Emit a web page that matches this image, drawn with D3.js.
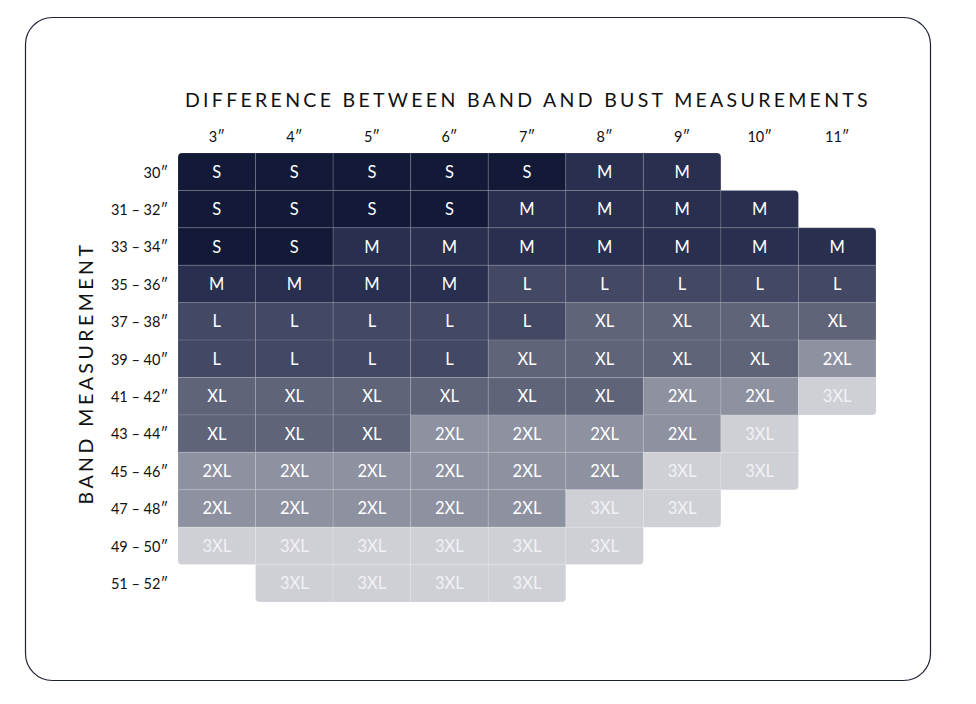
<!DOCTYPE html>
<html>
<head>
<meta charset="utf-8">
<script src="https://cdn.jsdelivr.net/npm/d3@7"></script>
<style>
	body { margin: 0; background: #fff; }
	svg text { font-family: Lato, "Open Sans", sans-serif; }
</style>
</head>
<body>
<div id="chart"></div>
<script>
// difference between band and bust (columns)
const diffs = ["3″", "4″", "5″", "6″", "7″", "8″", "9″", "10″", "11″"];
// band measurement (rows)
const bands = ["30″", "31 – 32″", "33 – 34″", "35 – 36″", "37 – 38″", "39 – 40″",
	"41 – 42″", "43 – 44″", "45 – 46″", "47 – 48″", "49 – 50″", "51 – 52″"];
// sizes per row, one entry per column ("" = no cell)
const sizeRows = [
	["S", "S", "S", "S", "S", "M", "M", "", ""],
	["S", "S", "S", "S", "M", "M", "M", "M", ""],
	["S", "S", "M", "M", "M", "M", "M", "M", "M"],
	["M", "M", "M", "M", "L", "L", "L", "L", "L"],
	["L", "L", "L", "L", "L", "XL", "XL", "XL", "XL"],
	["L", "L", "L", "L", "XL", "XL", "XL", "XL", "2XL"],
	["XL", "XL", "XL", "XL", "XL", "XL", "2XL", "2XL", "3XL"],
	["XL", "XL", "XL", "2XL", "2XL", "2XL", "2XL", "3XL", ""],
	["2XL", "2XL", "2XL", "2XL", "2XL", "2XL", "3XL", "3XL", ""],
	["2XL", "2XL", "2XL", "2XL", "2XL", "3XL", "3XL", "", ""],
	["3XL", "3XL", "3XL", "3XL", "3XL", "3XL", "", "", ""],
	["", "3XL", "3XL", "3XL", "3XL", "", "", "", ""]
];
const sizes = ["S", "M", "L", "XL", "2XL", "3XL"];
const sizeColors = ["#121a38", "#292f4e", "#434964", "#5f6479", "#8e91a0", "#cfd0d6"];

const W = 976, H = 704;
const svg = d3.select("#chart").append("svg")
	.attr("width", W)
	.attr("height", H);

// frame
svg.append("rect")
	.attr("x", 25.5)
	.attr("y", 17.5)
	.attr("width", 905)
	.attr("height", 663)
	.attr("rx", 27)
	.attr("fill", "none")
	.attr("stroke", "#1d2236")
	.attr("stroke-width", 1.2);

const x = d3.scaleBand().domain(diffs).range([178, 876]);
const y = d3.scaleBand().domain(bands).range([153, 602]);
const color = d3.scaleOrdinal().domain(sizes).range(sizeColors);

const cells = [];
sizeRows.forEach((row, r) => row.forEach((s, c) => {
	if (s) cells.push({ r, c, size: s });
}));
const has = (r, c) => r >= 0 && r < bands.length && c >= 0 && c < diffs.length && !!sizeRows[r][c];

// rect with only the exposed outer corners rounded
function cellPath(d) {
	const x0 = x(diffs[d.c]), y0 = y(bands[d.r]);
	const x1 = x0 + x.bandwidth(), y1 = y0 + y.bandwidth();
	const R = 4;
	const tl = !has(d.r - 1, d.c) && !has(d.r, d.c - 1) ? R : 0;
	const tr = !has(d.r - 1, d.c) && !has(d.r, d.c + 1) ? R : 0;
	const br = !has(d.r + 1, d.c) && !has(d.r, d.c + 1) ? R : 0;
	const bl = !has(d.r + 1, d.c) && !has(d.r, d.c - 1) ? R : 0;
	return `M${x0 + tl},${y0}H${x1 - tr}Q${x1},${y0} ${x1},${y0 + tr}` +
		`V${y1 - br}Q${x1},${y1} ${x1 - br},${y1}` +
		`H${x0 + bl}Q${x0},${y1} ${x0},${y1 - bl}` +
		`V${y0 + tl}Q${x0},${y0} ${x0 + tl},${y0}Z`;
}

svg.append("g")
	.selectAll("path")
	.data(cells)
	.enter()
	.append("path")
	.attr("d", cellPath)
	.attr("fill", d => color(d.size))
	.attr("stroke", "rgba(255,255,255,0.12)")
	.attr("stroke-width", 1);

svg.append("g")
	.selectAll("text")
	.data(cells)
	.enter()
	.append("text")
	.attr("x", d => x(diffs[d.c]) + x.bandwidth() / 2)
	.attr("y", d => y(bands[d.r]) + y.bandwidth() / 2 + 6)
	.attr("text-anchor", "middle")
	.style("fill", d => d.size === "3XL" ? "#f2f2f5" : "#ffffff")
	.style("font-size", "16.5px")
	.text(d => d.size);

// column labels
const xAxis = svg.append("g")
	.attr("transform", "translate(0,142)")
	.call(d3.axisTop(x).tickSize(0).tickPadding(0));
xAxis.select(".domain").remove();
xAxis.selectAll("text")
	.style("font-family", "Lato, sans-serif")
	.style("font-size", "14.5px")
	.style("fill", "#111");

// row labels
const yAxis = svg.append("g")
	.attr("transform", "translate(168,0)")
	.call(d3.axisLeft(y).tickSize(0).tickPadding(0));
yAxis.select(".domain").remove();
yAxis.selectAll("text")
	.attr("dy", "0.4em")
	.style("font-family", "Lato, sans-serif")
	.style("font-size", "14.5px")
	.style("fill", "#111");

// titles
svg.append("text")
	.attr("x", 528)
	.attr("y", 107)
	.attr("text-anchor", "middle")
	.style("font-size", "19.5px")
	.style("letter-spacing", "3.3px")
	.style("fill", "#111")
	.text("DIFFERENCE BETWEEN BAND AND BUST MEASUREMENTS");

svg.append("text")
	.attr("transform", "translate(93,373) rotate(-90)")
	.attr("text-anchor", "middle")
	.style("font-size", "19.5px")
	.style("letter-spacing", "3.5px")
	.style("fill", "#111")
	.text("BAND MEASUREMENT");
</script>
</body>
</html>
